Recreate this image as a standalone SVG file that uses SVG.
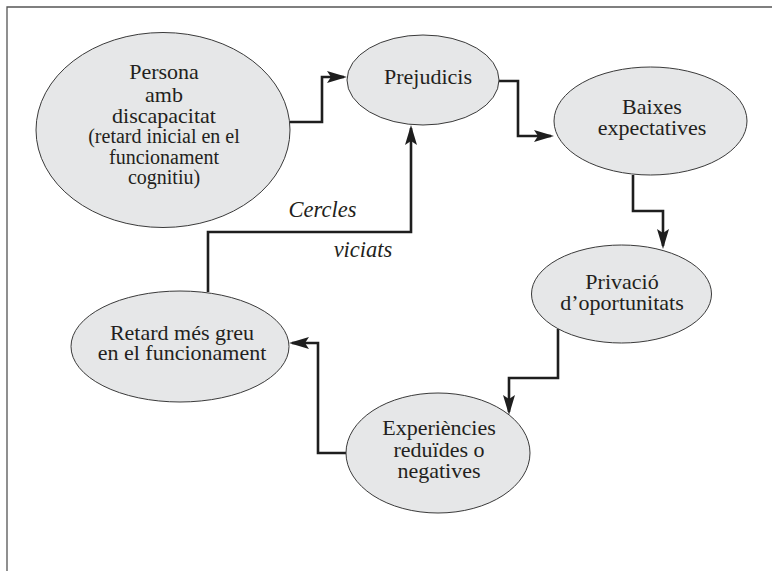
<svg xmlns="http://www.w3.org/2000/svg" width="772" height="571" viewBox="0 0 772 571">
<style>
.node ellipse{fill:#e6e7e8;stroke:#3a3a3a;stroke-width:1}
.node text{font-family:"Liberation Serif","Times New Roman",serif;font-size:22px;fill:#231f20;text-anchor:middle}
.node text.s{font-size:20px}
.conn path{fill:none;stroke:#1e1e1e;stroke-width:2.6;stroke-linejoin:miter;marker-end:url(#ah)}
.lbl{font-family:"Liberation Serif","Times New Roman",serif;font-style:italic;font-size:22.5px;fill:#231f20;text-anchor:middle}
</style>
<defs>
<marker id="ah" markerUnits="userSpaceOnUse" markerWidth="20" markerHeight="12" viewBox="0 0 20 12" refX="17" refY="6" orient="auto">
<path d="M0,0 L20,6 L0,12 L4,6 Z" fill="#1e1e1e"/>
</marker>
</defs>
<rect width="772" height="571" fill="#ffffff"/>
<path d="M7,571 V7 H772" fill="none" stroke="#555" stroke-width="1.3"/>
<g id="connectors" class="conn">
<path d="M290,122 H322 V77 H344"/>
<path d="M499,81 H518 V136 H551"/>
<path d="M633,175 V211 H663 V246"/>
<path d="M558,329 V378 H509 V412"/>
<path d="M346,453 H318 V343 H292"/>
<path d="M208,292 V232 H411 V128"/>
</g>
<g id="persona" class="node">
<ellipse cx="163" cy="130" rx="127" ry="97.5"/>
<text x="164" y="79">Persona</text>
<text x="164" y="101.5">amb</text>
<text x="164" y="123">discapacitat</text>
<text class="s" x="164" y="143">(retard inicial en el</text>
<text class="s" x="164" y="163.5">funcionament</text>
<text class="s" x="164" y="183.5">cognitiu)</text>
</g>
<g id="prejudicis" class="node">
<ellipse cx="423" cy="80" rx="76" ry="45"/>
<text x="428" y="83.5">Prejudicis</text>
</g>
<g id="baixes" class="node">
<ellipse cx="650.5" cy="121" rx="96.5" ry="54"/>
<text x="652" y="114">Baixes</text>
<text x="652" y="134.5">expectatives</text>
</g>
<g id="privacio" class="node">
<ellipse cx="621.5" cy="294" rx="90" ry="49"/>
<text x="622" y="289">Privació</text>
<text x="622" y="310">d’oportunitats</text>
</g>
<g id="experiencies" class="node">
<ellipse cx="438" cy="453" rx="92" ry="60"/>
<text x="439" y="434.5">Experiències</text>
<text x="439" y="456.5">reduïdes o</text>
<text x="439" y="477.5">negatives</text>
</g>
<g id="retard" class="node">
<ellipse cx="180" cy="346.5" rx="109" ry="55.5"/>
<text x="182" y="340">Retard més greu</text>
<text x="182" y="359.5">en el funcionament</text>
</g>
<g id="labels">
<text class="lbl" x="322.5" y="217">Cercles</text>
<text class="lbl" x="363" y="257">viciats</text>
</g>
</svg>
